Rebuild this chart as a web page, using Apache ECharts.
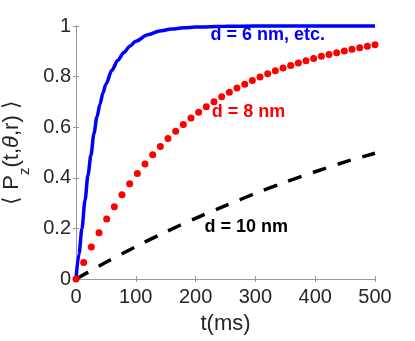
<!DOCTYPE html>
<html>
<head>
<meta charset="utf-8">
<script src="https://cdn.jsdelivr.net/npm/echarts@6/dist/echarts.min.js"></script>
<style>
html,body{margin:0;padding:0;background:#fff;}
#chart{width:415px;height:341px;}
</style>
</head>
<body>
<div id="chart"></div>
<script>
// x ticks and y ticks
var xTicks = [0, 100, 200, 300, 400, 500];
var xTickLabels = ['0', '100', '200', '300', '400', '500'];
var yTicks = [0, 0.2, 0.4, 0.6, 0.8, 1];
var yTickLabels = ['0', '0.2', '0.4', '0.6', '0.8', '1'];

// d = 6 nm, etc. (solid blue)
var tBlue = [0, 5, 10, 15, 20, 25, 30, 35, 40, 45, 50, 60, 70, 80, 90, 100, 120, 140, 160, 180, 200, 250, 300, 400, 500];
var vBlue = [0, 0.10, 0.20, 0.31, 0.41, 0.49, 0.575, 0.64, 0.69, 0.735, 0.77, 0.825, 0.865, 0.895, 0.92, 0.94, 0.965, 0.98, 0.988, 0.993, 0.996, 0.999, 1, 1, 1];

// d = 8 nm (red dots)
var tRed = [0, 12.8, 25.6, 38.5, 51.3, 64.1, 76.9, 89.7, 102.6, 115.4, 128.2, 141.0, 153.8, 166.7, 179.5, 192.3, 205.1, 217.9, 230.8, 243.6, 256.4, 269.2, 282.1, 294.9, 307.7, 320.5, 333.3, 346.2, 359.0, 371.8, 384.6, 397.4, 410.3, 423.1, 435.9, 448.7, 461.5, 474.4, 487.2, 500];
var vRed = [0, 0.065, 0.126, 0.183, 0.237, 0.286, 0.333, 0.376, 0.417, 0.455, 0.491, 0.524, 0.555, 0.584, 0.611, 0.636, 0.659, 0.681, 0.701, 0.720, 0.738, 0.755, 0.770, 0.785, 0.798, 0.811, 0.823, 0.834, 0.844, 0.854, 0.863, 0.872, 0.880, 0.887, 0.894, 0.901, 0.908, 0.914, 0.920, 0.926];

// d = 10 nm (black dashed)
var tBlack = [0, 50, 100, 150, 200, 250, 300, 350, 400, 450, 500];
var vBlack = [0, 0.066, 0.128, 0.186, 0.24, 0.29, 0.338, 0.383, 0.424, 0.463, 0.497];

// annotations: text, data position (left edge, vertical middle), colour
var annText = ['d = 6 nm, etc.', 'd = 8 nm', 'd = 10 nm'];
var annPos = [[225, 0.965], [227, 0.658], [215, 0.206]];
var annColor = ['#0000ff', '#ff0000', '#000000'];

function zip(a, b) { return a.map(function (v, i) { return [v, b[i]]; }); }
function fmt(ticks, labels) { return function (v) { var i = ticks.indexOf(+v.toFixed(6)); return i >= 0 ? labels[i] : ''; }; }

var FONT = '"Liberation Sans", Arial, Helvetica, sans-serif';
var TXT = '#262626';
var AX = '#999999';

var chart = echarts.init(document.getElementById('chart'), null, {renderer: 'canvas'});
var axisCommon = {
  axisLine: {show: true, lineStyle: {color: AX, width: 1}},
  axisTick: {show: true, inside: true, length: 3, lineStyle: {color: AX}},
  splitLine: {show: false}
};
chart.setOption({
  animation: false,
  backgroundColor: '#ffffff',
  grid: {left: 76, right: 40, top: 26, bottom: 62, containLabel: false, outerBoundsMode: 'none'},
  xAxis: [
    Object.assign({
      type: 'value', position: 'bottom', min: 0, max: 500, interval: 100,
      axisLabel: {fontSize: 20, color: TXT, fontFamily: FONT, margin: 8, formatter: fmt(xTicks, xTickLabels)},
      name: 't(ms)', nameLocation: 'middle', nameGap: 34,
      nameTextStyle: {fontSize: 22, color: TXT, fontFamily: FONT}
    }, axisCommon),
    Object.assign({
      type: 'value', position: 'top', min: 0, max: 500, interval: 100,
      axisLabel: {show: false}
    }, axisCommon)
  ],
  yAxis: [
    Object.assign({
      type: 'value', position: 'left', min: 0, max: 1, interval: 0.2,
      axisLabel: {fontSize: 20, color: TXT, fontFamily: FONT, margin: 5, formatter: fmt(yTicks, yTickLabels)},
      name: '{a|⟨ P}{s|z}{a|(t,}{i|θ}{a|,r) ⟩}', nameLocation: 'middle', nameGap: 44,
      nameTextStyle: {
        color: TXT, fontFamily: FONT, fontSize: 22,
        rich: {
          a: {fontSize: 22, lineHeight: 24, verticalAlign: 'top', color: TXT, fontFamily: FONT},
          i: {fontSize: 22, lineHeight: 24, verticalAlign: 'top', color: TXT, fontFamily: FONT, fontStyle: 'italic'},
          s: {fontSize: 15, lineHeight: 15, verticalAlign: 'top', padding: [16, 0, 0, 0], color: TXT, fontFamily: FONT}
        }
      }
    }, axisCommon),
    Object.assign({
      type: 'value', position: 'right', min: 0, max: 1, interval: 0.2,
      axisLabel: {show: false}
    }, axisCommon)
  ],
  series: [
    {
      name: 'd = 6 nm, etc.', type: 'line', data: zip(tBlue, vBlue), showSymbol: false,
      smooth: 0.3, smoothMonotone: 'x', clip: false,
      lineStyle: {color: '#0000ff', width: 3.5}, z: 2
    },
    {
      name: 'd = 10 nm', type: 'line', data: zip(tBlack, vBlack), showSymbol: false,
      smooth: 0.3, clip: false,
      lineStyle: {color: '#000000', width: 3.5, type: [14, 12], cap: 'butt'}, z: 3
    },
    {
      name: 'd = 8 nm', type: 'scatter', data: zip(tRed, vRed), symbol: 'circle', symbolSize: 7,
      itemStyle: {color: '#ff0000', opacity: 1}, clip: false, z: 4
    }
  ]
});

var g = annText.map(function (t, i) {
  var p = chart.convertToPixel({xAxisIndex: 0, yAxisIndex: 0}, annPos[i]);
  return {
    type: 'text', x: p[0], y: p[1], z: 10,
    style: {text: t, fill: annColor[i], font: 'bold 18px ' + FONT,
      align: 'left', verticalAlign: 'middle', textAlign: 'left', textVerticalAlign: 'middle'}
  };
});
chart.setOption({graphic: g});
</script>
</body>
</html>
